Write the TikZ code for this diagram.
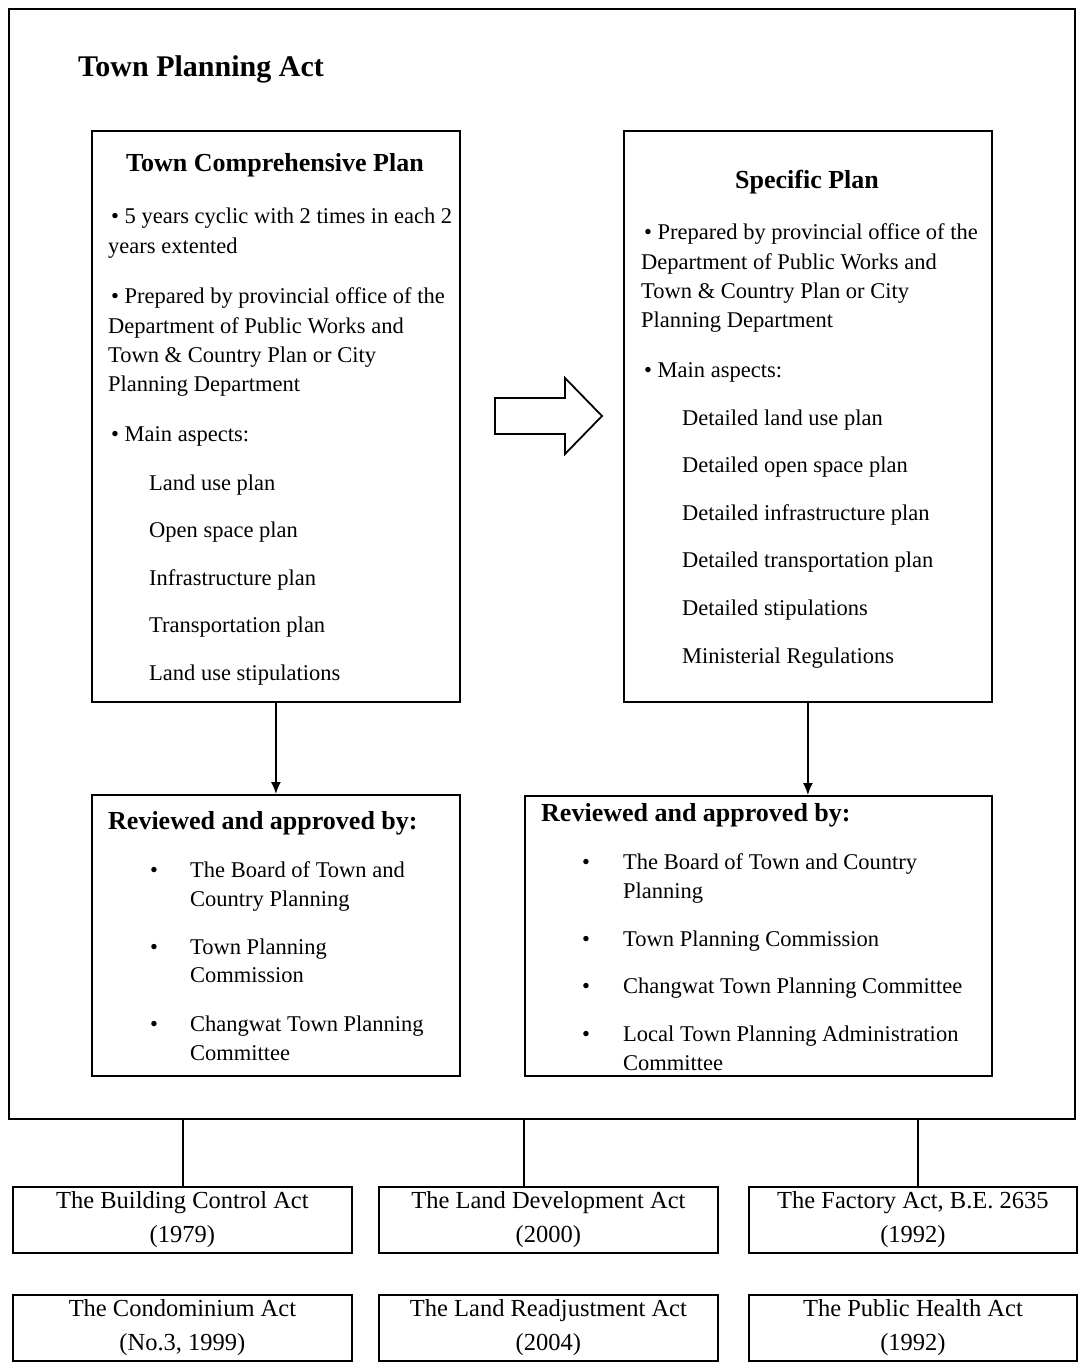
\documentclass[tikz,border=0pt]{standalone}
\usepackage{fontspec}
\setmainfont{Liberation Serif}
\usetikzlibrary{calc,arrows.meta}
\begin{document}
\begin{tikzpicture}[x=1pt,y=-1pt,
  box/.style={draw, line width=1.8pt, inner sep=0pt, anchor=north west},
  body/.style={anchor=base west, inner sep=0pt, font=\fontsize{22.5}{27}\selectfont},
  head/.style={inner sep=0pt, font=\bfseries\fontsize{26}{30}\selectfont},
  conn/.style={line width=1.6pt},
  flow/.style={conn, -{Latex[length=12pt,width=10pt]}},
  actbox/.style={draw, line width=1.8pt, anchor=north west, minimum height=66pt,
    align=center, inner sep=0pt, font=\fontsize{24.5}{34}\selectfont}]

\useasboundingbox (0,0) rectangle (1078,1367);
\fill[white] (0,0) rectangle (1078,1367);

% outer frame of the act
\node[box, minimum width=1066pt, minimum height=1110pt] (act) at (8,8) {};
\node[anchor=base west, inner sep=0pt, font=\bfseries\fontsize{30}{34}\selectfont] (title) at (78,77) {Town Planning Act};

% plan boxes
\node[box, minimum width=368pt, minimum height=571pt] (tcp) at (91,130) {};
\node[box, minimum width=368pt, minimum height=571pt] (sp) at (623,130) {};
\node[head, anchor=base] (tcph) at (275,172) {Town Comprehensive Plan};
\node[head, anchor=base] (sph) at (807,189) {Specific Plan};

\foreach \x/\y/\t [count=\i] in {
  111/223/{• 5 years cyclic with 2 times in each 2},
  108/253/{years extented},
  111/303/{• Prepared by provincial office of the},
  108/333/{Department of Public Works and},
  108/362/{Town \& Country Plan or City},
  108/391/{Planning Department},
  111/441/{• Main aspects:},
  149/490/{Land use plan},
  149/537/{Open space plan},
  149/585/{Infrastructure plan},
  149/632/{Transportation plan},
  149/680/{Land use stipulations}}
  \node[body] (tcp-\i) at (\x,\y) {\t};

\foreach \x/\y/\t [count=\i] in {
  644/239/{• Prepared by provincial office of the},
  641/269/{Department of Public Works and},
  641/298/{Town \& Country Plan or City},
  641/327/{Planning Department},
  644/377/{• Main aspects:},
  682/425/{Detailed land use plan},
  682/472/{Detailed open space plan},
  682/520/{Detailed infrastructure plan},
  682/567/{Detailed transportation plan},
  682/615/{Detailed stipulations},
  682/663/{Ministerial Regulations}}
  \node[body] (sp-\i) at (\x,\y) {\t};

% block arrow between the plans
\draw[line width=1.8pt, line join=miter, fill=white]
  (495,398) -- (565,398) -- (565,378) -- (602,416) -- (565,454) -- (565,434) -- (495,434) -- cycle;

% approval boxes
\node[box, minimum width=368pt, minimum height=281pt] (revL) at (91,794) {};
\node[box, minimum width=467pt, minimum height=280pt] (revR) at (524,795) {};
\node[head, anchor=base west] (revLh) at (108,829) {Reviewed and approved by:};
\node[head, anchor=base west] (revRh) at (541,821) {Reviewed and approved by:};

\foreach \y/\t/\b [count=\i] in {
  877/{The Board of Town and}/1,
  906/{Country Planning}/0,
  954/{Town Planning}/1,
  982/{Commission}/0,
  1031/{Changwat Town Planning}/1,
  1060/{Committee}/0} {
  \node[body] (revL-\i) at (190,\y) {\t};
  \ifnum\b=1 \node[body] (revLb-\i) at (150,\y) {•}; \fi
}

\foreach \y/\t/\b [count=\i] in {
  869/{The Board of Town and Country}/1,
  898/{Planning}/0,
  946/{Town Planning Commission}/1,
  993/{Changwat Town Planning Committee}/1,
  1041/{Local Town Planning Administration}/1,
  1070/{Committee}/0} {
  \node[body] (revR-\i) at (623,\y) {\t};
  \ifnum\b=1 \node[body] (revRb-\i) at (582,\y) {•}; \fi
}

\draw[flow] (tcp.south) -- (revL.north);
\draw[flow] (sp.south) -- (sp.south |- revR.north);

% related acts
\node[actbox, minimum width=339pt] (b1) at (12,1186) {The Building Control Act\\(1979)};
\node[actbox, minimum width=339pt] (b2) at (378,1186) {The Land Development Act\\(2000)};
\node[actbox, minimum width=328pt] (b3) at (748,1186) {The Factory Act, B.E. 2635\\(1992)};
\node[actbox, minimum width=339pt] (b4) at (12,1294) {The Condominium Act\\(No.3, 1999)};
\node[actbox, minimum width=339pt] (b5) at (378,1294) {The Land Readjustment Act\\(2004)};
\node[actbox, minimum width=328pt] (b6) at (748,1294) {The Public Health Act\\(1992)};

\draw[conn] ($(b1.north |- act.south)+(0.5,0)$) -- ($(b1.north)+(0.5,0)$);
\draw[conn] (revR.west |- act.south) -- (revR.west |- b2.north);
\draw[conn] ($(b3.north |- act.south)+(5,0)$) -- ($(b3.north)+(5,0)$);

\end{tikzpicture}
\end{document}
